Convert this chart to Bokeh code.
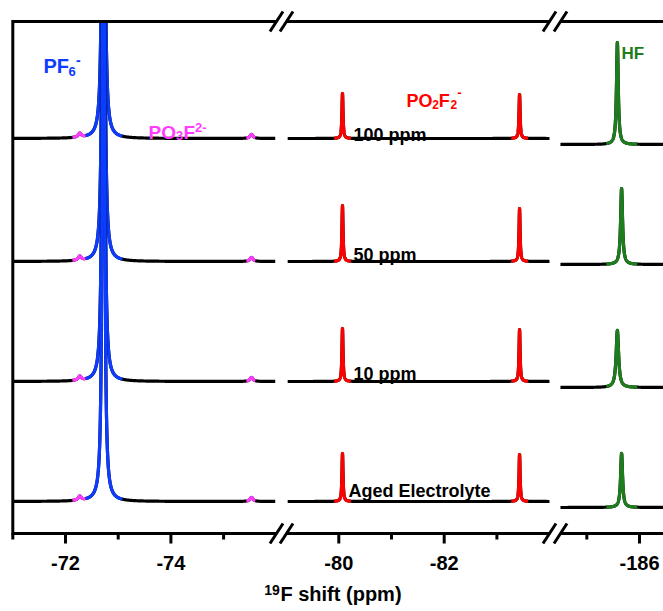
import numpy as np
from bokeh.plotting import figure
from bokeh.models import Range1d, FixedTicker, AllLabels, ColumnDataSource, LinearAxis
from bokeh.core.properties import value, field
from bokeh.embed import file_html
from bokeh.resources import INLINE

# ---------------- data ----------------
samples = ["100 ppm", "50 ppm", "10 ppm", "Aged Electrolyte"]
baseline = [395, 272, 152, 32]          # vertical offset of each trace (a.u.)
hf_baseline_step = [6, 3, 6, 6]         # HF window sits slightly lower

pf6_center = -72.72
pf6_height = [2083, 2083, 2083, 2083]   # off scale
pf6_width = 0.012
po3f_centers = [-72.27, -75.53]
po3f_height = [4, 4, 4, 4]
po3f_width = 0.035
po2f2_centers = [-80.07, -83.43]
po2f2_height_a = [45, 56, 53, 48]
po2f2_height_b = [44, 53, 52, 47]
po2f2_width = 0.012
hf_center = [-185.58, -185.66, -185.58, -185.66]
hf_height = [102, 76, 57, 54]
hf_width = [0.020, 0.022, 0.028, 0.022]

major_ticks = [-72, -74, -80, -82, -186]
minor_ticks = [-71, -73, -75, -81, -83, -185]
title_sup, title_main = "19", "F shift (ppm)"

# ---------------- broken-axis layout ----------------
PX0, PXPP = 12.3, 52.7                      # page px of u=0, px per ppm
seg_ppm = [(-71.0, -75.98), (-79.03, -84.0), (-184.50, -186.50)]
seg_k = [-71.0, -73.814, -174.108]          # u = k - ppm in each segment
pf6_win = (-72.38, -73.08)
po3f_wins = [(-72.13, -72.38), (-75.43, -75.60)]
po2f2_half = 0.16
hf_win = (-185.37, -185.96)
BLUE, MAG, RED, GREEN = "#0b3cff", "#ff3cff", "#ff0000", "#1d7d1d"
TOP = 512


def seg_of(ppm):
    return 0 if ppm > -77 else (1 if ppm > -120 else 2)


def u_of(ppm):
    return seg_k[seg_of(ppm)] - ppm


def upx(px):
    return (px - PX0) / PXPP


def ypx(py):
    return 533 - py


def lor(x, x0, h, g):
    return h * g ** 2 / ((x - x0) ** 2 + g ** 2)


W, H = 663, 611
FL, FB = 9, 67     # frame left border, bottom border
p = figure(width=W, height=H, output_backend="svg", toolbar_location=None,
           x_range=Range1d(upx(FL), upx(W)), y_range=Range1d(ypx(H - FB), ypx(0)),
           y_axis_location=None, min_border_left=FL, min_border_right=0,
           min_border_top=0, min_border_bottom=FB)
p.outline_line_color = None
p.grid.visible = False
p.background_fill_color = "white"

LW = 3.2
for r in range(4):
    for s, (a, b) in enumerate(seg_ppm):
        x = np.arange(a, b, -0.002)
        if s == 0:
            y = baseline[r] + lor(x, pf6_center, pf6_height[r], pf6_width)
            for c in po3f_centers:
                y = y + lor(x, c, po3f_height[r], po3f_width)
            wins = [(pf6_win, BLUE)] + [(w, MAG) for w in po3f_wins]
        elif s == 1:
            y = (baseline[r] + lor(x, po2f2_centers[0], po2f2_height_a[r], po2f2_width)
                 + lor(x, po2f2_centers[1], po2f2_height_b[r], po2f2_width))
            wins = [((c + po2f2_half, c - po2f2_half), RED) for c in po2f2_centers]
        else:
            y = baseline[r] - hf_baseline_step[r] + lor(x, hf_center[r], hf_height[r], hf_width[r])
            wins = [(hf_win, GREEN)]
        y = np.minimum(y, TOP)           # the frame stops the off-scale peak
        u = seg_k[s] - x
        p.line(u, y, line_color="black", line_width=LW, line_join="round")
        for (hi, lo), col in wins:
            m = (x <= hi) & (x >= lo)
            p.line(u[m], y[m], line_color=col, line_width=LW, line_join="round")

# hide what runs above the top axis
p.quad(left=upx(0), right=upx(700), bottom=TOP + 1.6, top=560, fill_color="white", line_color=None)

# ---------------- hand-drawn broken axes ----------------
breaks_px = [276, 286, 549, 560]
bu = [upx(v) for v in breaks_px]
left_u, right_u = 0.0, upx(W + 5)
axis_kw = dict(line_color="black", line_width=3)
for Y in (0, TOP):
    p.segment(x0=[left_u, bu[1], bu[3]], y0=[Y] * 3, x1=[bu[0], bu[2], right_u], y1=[Y] * 3, **axis_kw)
    dx = 6.5 / PXPP
    p.segment(x0=[c - dx for c in bu], y0=[Y - 10] * 4, x1=[c + dx for c in bu], y1=[Y + 10] * 4,
              line_color="black", line_width=3)
p.segment(x0=[0], y0=[-1.5], x1=[0], y1=[TOP + 1.5], **axis_kw)
mu = [u_of(t) for t in major_ticks]
nu = [u_of(t) for t in minor_ticks]
p.segment(x0=mu, y0=[0] * len(mu), x1=mu, y1=[-10] * len(mu), **axis_kw)
p.segment(x0=nu, y0=[0] * len(nu), x1=nu, y1=[-6] * len(nu), **axis_kw)


# ---------------- tick labels and title on real axes ----------------
def label_axis(ax, ticks, labels, size, standoff):
    ax.ticker = FixedTicker(ticks=ticks, minor_ticks=[])
    ax.major_label_overrides = {t: l for t, l in zip(ticks, labels)}
    ax.major_label_policy = AllLabels()
    ax.axis_line_color = None
    ax.major_tick_line_color = None
    ax.minor_tick_line_color = None
    ax.major_tick_in = 0
    ax.major_tick_out = 0
    ax.major_label_standoff = standoff
    ax.major_label_text_font = "Liberation Sans"
    ax.major_label_text_font_style = "bold"
    ax.major_label_text_font_size = size
    ax.major_label_text_color = "black"


tick_u = [round(u_of(t), 4) for t in major_ticks]
label_axis(p.xaxis[0], tick_u, [str(t) for t in major_ticks], "20px", 11)

ax_sup = LinearAxis()
label_axis(ax_sup, [round(upx(271.5), 4)], [title_sup], "14px", 12)
p.add_layout(ax_sup, "below")
ax_main = LinearAxis()
label_axis(ax_main, [round(upx(340.5), 4)], [title_main], "20px", -15)
p.add_layout(ax_main, "below")

# ---------------- in-plot labels ----------------
FONT = value("Liberation Sans")
pieces = [
    # text, left px, baseline px, size, color
    ("PF", 43, 65.5, "20px", BLUE), ("6", 68, 70.5, "13px", BLUE), ("-", 75.5, 59, "14px", BLUE),
    ("PO", 148, 132, "19px", MAG), ("3", 175.5, 135, "13px", MAG), ("F", 183, 132, "19px", MAG),
    ("2-", 194.5, 127, "13px", MAG),
    ("PO", 406, 100, "18px", RED), ("2", 431.7, 104, "12px", RED), ("F", 438.3, 100, "18px", RED),
    ("2", 450, 104, "12px", RED), ("-", 456.7, 92, "13px", RED),
    ("HF", 621, 53, "17px", GREEN),
    (samples[0], 353, 134.5, "18px", "black"),
    (samples[1], 353, 254, "18px", "black"),
    (samples[2], 353, 373.5, "18px", "black"),
    (samples[3], 348, 490, "18px", "black"),
]
src = ColumnDataSource(dict(
    x=[upx(t[1]) for t in pieces], y=[ypx(t[2]) for t in pieces],
    text=[t[0] for t in pieces], size=[t[3] for t in pieces], color=[t[4] for t in pieces]))
p.text(x="x", y="y", text="text", source=src, text_font=FONT, text_font_style="bold",
       text_font_size=field("size"), text_color=field("color"),
       text_align="left", text_baseline="alphabetic")

open("out.html", "w").write(file_html(p, INLINE))
